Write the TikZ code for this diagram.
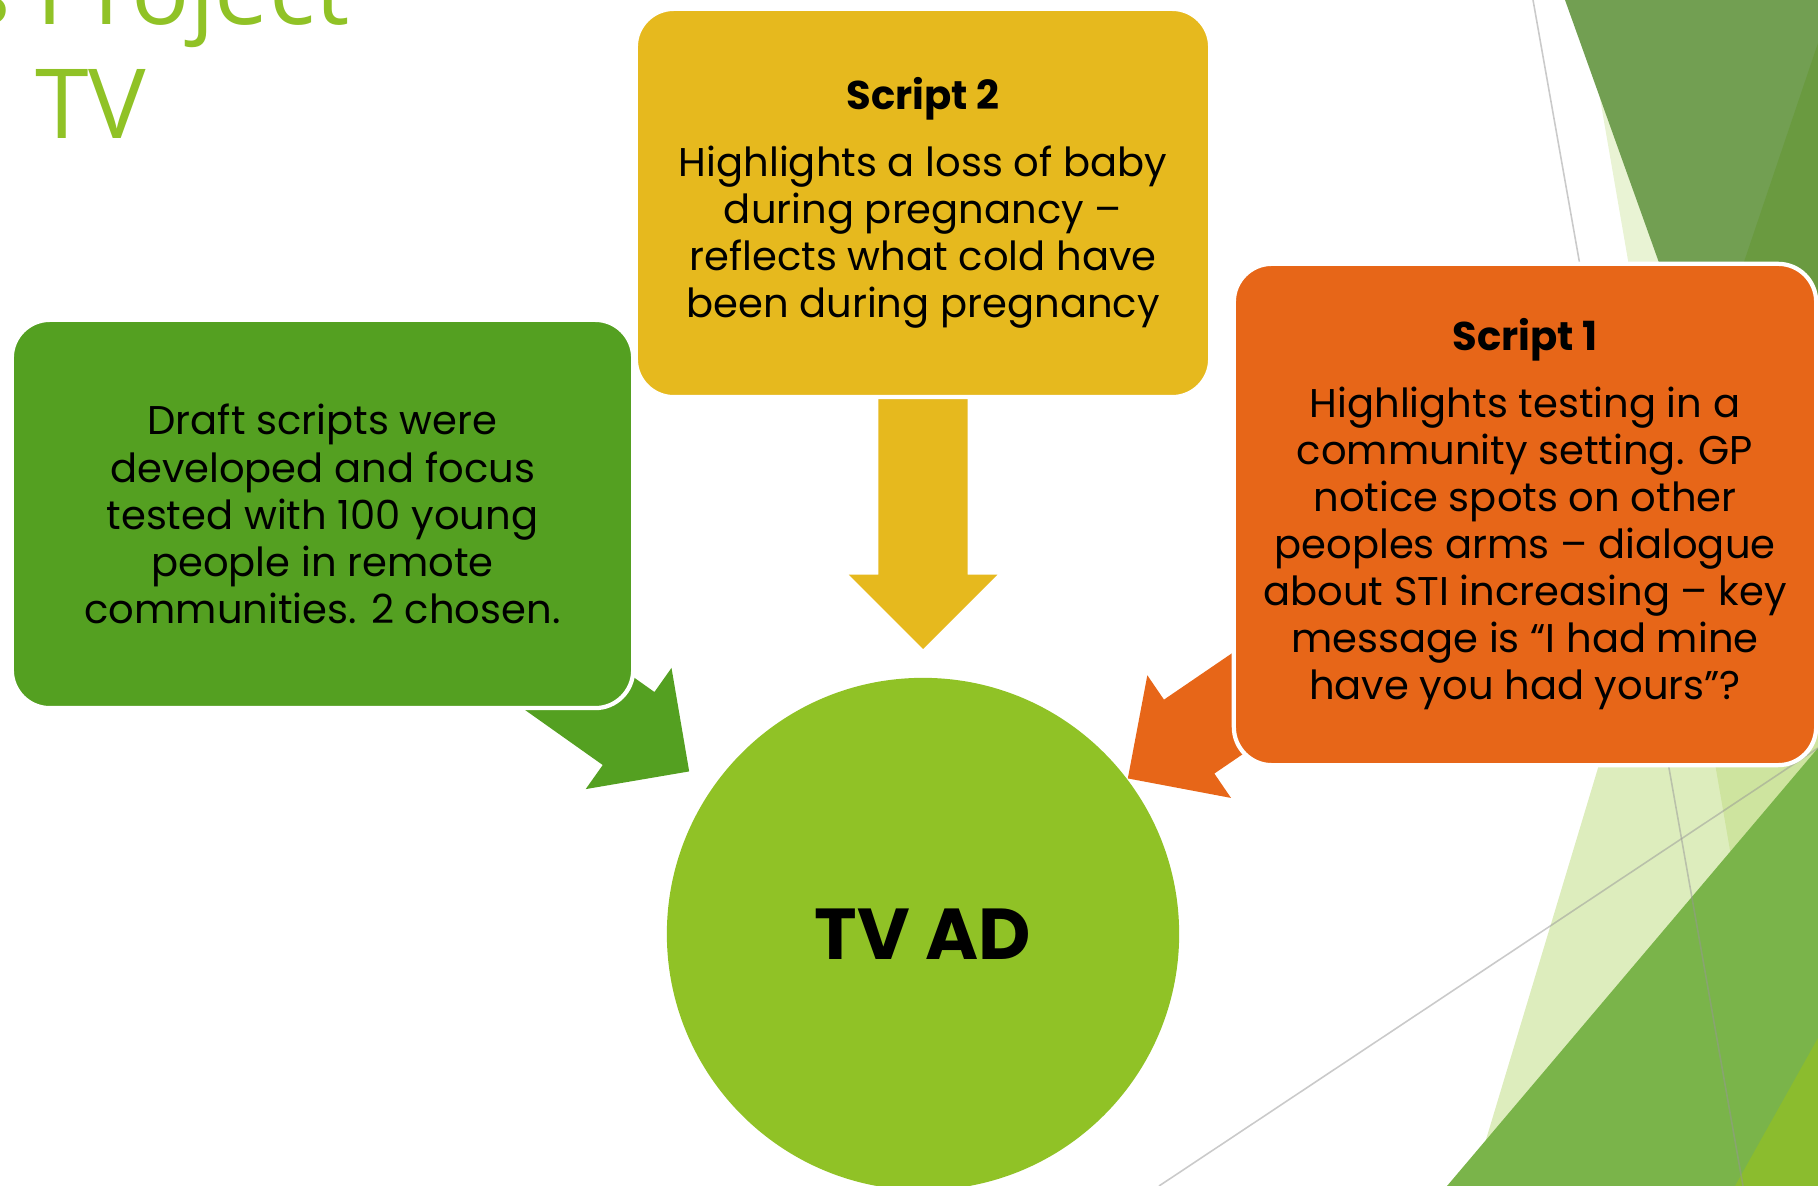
\documentclass[tikz,border=0pt]{standalone}
\usepackage{fontspec}
\setmainfont{Poppins}
\newfontfamily\titlefont{Open Sans}
\usepackage{xcolor}
\usetikzlibrary{shapes.arrows}

\definecolor{facetlime}{HTML}{90C226}
\definecolor{facetgreen}{HTML}{54A021}
\definecolor{facetgold}{HTML}{E6B91E}
\definecolor{facetorange}{HTML}{E76618}
\definecolor{facetdark}{HTML}{729F52}
\definecolor{facetdarker}{HTML}{6A9A40}
\definecolor{facetmid}{HTML}{7AB44A}
\definecolor{facetbright}{HTML}{8BBC2E}
\definecolor{guidegray}{RGB}{150,150,150}

\begin{document}
\begin{tikzpicture}[
    x=0.01cm, y=-0.01cm,
    box/.style={
        draw=white,
        line width=1.2pt,
        rounded corners=0.38cm,
        align=center,
        inner sep=0pt,
        font=\fontsize{11.4}{13.4}\selectfont
    },
    draftbox/.style={box, fill=facetgreen, minimum width=6.21cm, minimum height=3.88cm},
    goldbox/.style={box, fill=facetgold, minimum width=5.74cm, minimum height=3.88cm},
    orangebox/.style={box, fill=facetorange, minimum width=5.82cm, minimum height=5.01cm},
    adcircle/.style={
        circle,
        fill=facetlime,
        minimum size=5.12cm,
        inner sep=0pt,
        font=\fontsize{20.5}{24}\selectfont\bfseries
    },
    blockarrow/.style={
        single arrow,
        draw=none,
        minimum height=2.5cm,
        single arrow head extend=0.295cm,
        single arrow tip angle=90,
        inner xsep=0pt,
        inner ysep=0.44cm,
        anchor=tip
    },
    guide/.style={draw=guidegray, draw opacity=0.5, line width=0.45pt},
    titletext/.style={text=facetlime, font=\titlefont\fontsize{27.5}{30}\selectfont, inner sep=0pt}
]
\useasboundingbox (0,0) rectangle (1818,1186);

% facets on the right
\fill[facetlime, fill opacity=0.2] (1583,0) -- (1788,1186) -- (1818,1186) -- (1818,0) -- cycle;
\fill[facetdark] (1565,0) -- (1818,0) -- (1818,707) -- cycle;
\fill[facetdarker] (1818,43) -- (1700,392) -- (1818,392) -- cycle;
\fill[facetlime, fill opacity=0.3] (1730,330) -- (1472,1186) -- (1818,1186) -- (1818,330) -- cycle;
\fill[facetmid] (1818,748) -- (1447,1186) -- (1818,1186) -- cycle;
\fill[facetbright] (1818,1038) -- (1735,1186) -- (1818,1186) -- cycle;
\draw[guide] (1533,0) -- (1743,1186);
\draw[guide] (1159,1186) -- (1818,748);

% title
\node[titletext, anchor=base east] (titletop) at (350,25) {s Project};
\node[titletext, anchor=base] (titletv) at (91,139) {TV};

% arrows into the ad
\node[blockarrow, fill=facetgold, rotate=-90] (arrow2) at (923,650) {};
\node[blockarrow, fill=facetgreen, rotate=-35.3] (arrowdraft) at (690,772) {};
\node[blockarrow, fill=facetorange, rotate=-145.7] (arrow1) at (1127,779) {};

\node[draftbox] (draft) at (322.5,514) {Draft scripts were\\developed and focus\\tested with 100 young\\people in remote\\communities. 2 chosen.};
\node[goldbox] (script2) at (923,203) {\textbf{Script 2}\\[5.7pt]Highlights a loss of baby\\during pregnancy –\\reflects what cold have\\been during pregnancy};
\node[orangebox] (script1) at (1525,514.5) {\textbf{Script 1}\\[5.4pt]Highlights testing in a\\community setting. GP\\notice spots on other\\peoples arms – dialogue\\about STI increasing – key\\message is “I had mine\\have you had yours”?};

\node[adcircle] (tvad) at (923,934) {TV AD};
\end{tikzpicture}
\end{document}
